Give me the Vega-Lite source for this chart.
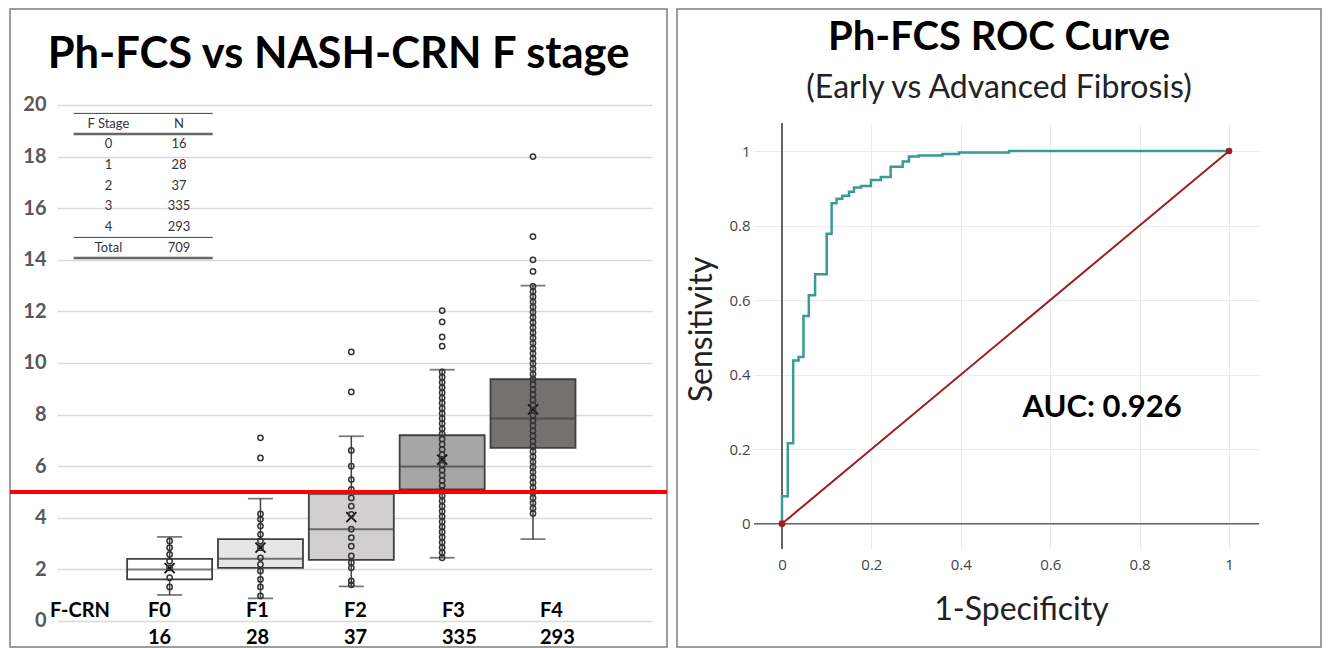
{
  "$schema": "https://vega.github.io/schema/vega-lite/v6.json",
  "padding": {"left": 7, "top": 8, "right": 0, "bottom": 0},
  "bounds": "flush",
  "spacing": 10,
  "background": "white",
  "config": {"view": {"stroke": "#7f7f7f", "strokeWidth": 1.5}, "font": "Lato"},
  "datasets": {
    "boxes": [
      {"stage": 0, "lo": 1.01, "q1": 1.61, "med": 2.0, "q3": 2.41, "hi": 3.26, "mean": 2.05},
      {"stage": 1, "lo": 0.88, "q1": 2.06, "med": 2.41, "q3": 3.17, "hi": 4.74, "mean": 2.84},
      {"stage": 2, "lo": 1.34, "q1": 2.37, "med": 3.56, "q3": 4.93, "hi": 7.16, "mean": 4.03},
      {"stage": 3, "lo": 2.45, "q1": 5.1, "med": 5.99, "q3": 7.2, "hi": 9.74, "mean": 6.25},
      {"stage": 4, "lo": 3.17, "q1": 6.71, "med": 7.85, "q3": 9.37, "hi": 13.0, "mean": 8.2}
    ],
    "pts": [
      {"stage": 0, "v": 3.1}, {"stage": 0, "v": 2.84}, {"stage": 0, "v": 2.58}, {"stage": 0, "v": 2.32}, {"stage": 0, "v": 2.06}, {"stage": 0, "v": 1.68}, {"stage": 0, "v": 1.32},
      {"stage": 1, "v": 4.15}, {"stage": 1, "v": 3.94}, {"stage": 1, "v": 3.68}, {"stage": 1, "v": 3.36}, {"stage": 1, "v": 3.1}, {"stage": 1, "v": 2.84}, {"stage": 1, "v": 2.45}, {"stage": 1, "v": 2.19}, {"stage": 1, "v": 1.94}, {"stage": 1, "v": 1.61}, {"stage": 1, "v": 1.32}, {"stage": 1, "v": 0.97}, {"stage": 1, "v": 6.32}, {"stage": 1, "v": 7.1},
      {"stage": 2, "v": 6.61}, {"stage": 2, "v": 6.0}, {"stage": 2, "v": 5.48}, {"stage": 2, "v": 5.1}, {"stage": 2, "v": 4.77}, {"stage": 2, "v": 4.45}, {"stage": 2, "v": 4.13}, {"stage": 2, "v": 3.56}, {"stage": 2, "v": 3.23}, {"stage": 2, "v": 2.9}, {"stage": 2, "v": 2.52}, {"stage": 2, "v": 2.26}, {"stage": 2, "v": 2.06}, {"stage": 2, "v": 1.55}, {"stage": 2, "v": 1.4}, {"stage": 2, "v": 8.88}, {"stage": 2, "v": 10.43},
      {"stage": 3, "v": 2.45}, {"stage": 3, "v": 2.65}, {"stage": 3, "v": 2.85}, {"stage": 3, "v": 3.05}, {"stage": 3, "v": 3.25}, {"stage": 3, "v": 3.45}, {"stage": 3, "v": 3.65}, {"stage": 3, "v": 3.85}, {"stage": 3, "v": 4.05}, {"stage": 3, "v": 4.25}, {"stage": 3, "v": 4.45}, {"stage": 3, "v": 4.65}, {"stage": 3, "v": 4.85}, {"stage": 3, "v": 5.05}, {"stage": 3, "v": 5.25}, {"stage": 3, "v": 5.45}, {"stage": 3, "v": 5.65}, {"stage": 3, "v": 5.85}, {"stage": 3, "v": 6.05}, {"stage": 3, "v": 6.25}, {"stage": 3, "v": 6.45}, {"stage": 3, "v": 6.65}, {"stage": 3, "v": 6.85}, {"stage": 3, "v": 7.05}, {"stage": 3, "v": 7.25}, {"stage": 3, "v": 7.45}, {"stage": 3, "v": 7.65}, {"stage": 3, "v": 7.85}, {"stage": 3, "v": 8.05}, {"stage": 3, "v": 8.25}, {"stage": 3, "v": 8.45}, {"stage": 3, "v": 8.65}, {"stage": 3, "v": 8.85}, {"stage": 3, "v": 9.05}, {"stage": 3, "v": 9.25}, {"stage": 3, "v": 9.45}, {"stage": 3, "v": 9.65}, {"stage": 3, "v": 10.65}, {"stage": 3, "v": 11.01}, {"stage": 3, "v": 11.59}, {"stage": 3, "v": 12.03},
      {"stage": 4, "v": 4.17}, {"stage": 4, "v": 4.37}, {"stage": 4, "v": 4.57}, {"stage": 4, "v": 4.77}, {"stage": 4, "v": 4.97}, {"stage": 4, "v": 5.17}, {"stage": 4, "v": 5.37}, {"stage": 4, "v": 5.57}, {"stage": 4, "v": 5.77}, {"stage": 4, "v": 5.97}, {"stage": 4, "v": 6.17}, {"stage": 4, "v": 6.37}, {"stage": 4, "v": 6.57}, {"stage": 4, "v": 6.77}, {"stage": 4, "v": 6.97}, {"stage": 4, "v": 7.17}, {"stage": 4, "v": 7.37}, {"stage": 4, "v": 7.57}, {"stage": 4, "v": 7.77}, {"stage": 4, "v": 7.97}, {"stage": 4, "v": 8.17}, {"stage": 4, "v": 8.37}, {"stage": 4, "v": 8.57}, {"stage": 4, "v": 8.77}, {"stage": 4, "v": 8.97}, {"stage": 4, "v": 9.17}, {"stage": 4, "v": 9.37}, {"stage": 4, "v": 9.57}, {"stage": 4, "v": 9.77}, {"stage": 4, "v": 9.97}, {"stage": 4, "v": 10.17}, {"stage": 4, "v": 10.37}, {"stage": 4, "v": 10.57}, {"stage": 4, "v": 10.77}, {"stage": 4, "v": 10.97}, {"stage": 4, "v": 11.17}, {"stage": 4, "v": 11.37}, {"stage": 4, "v": 11.57}, {"stage": 4, "v": 11.77}, {"stage": 4, "v": 11.97}, {"stage": 4, "v": 12.17}, {"stage": 4, "v": 12.37}, {"stage": 4, "v": 12.57}, {"stage": 4, "v": 12.77}, {"stage": 4, "v": 12.97}, {"stage": 4, "v": 13.55}, {"stage": 4, "v": 14.0}, {"stage": 4, "v": 14.9}, {"stage": 4, "v": 18.0}
    ],
    "xlab": [
      {"lab": "F-CRN", "n": ""}, {"lab": "F0", "n": "16"}, {"lab": "F1", "n": "28"}, {"lab": "F2", "n": "37"}, {"lab": "F3", "n": "335"}, {"lab": "F4", "n": "293"}
    ],
    "tab": [
      {"r": "h", "a": "F Stage", "b": "N"},
      {"r": "0", "a": "0", "b": "16"},
      {"r": "1", "a": "1", "b": "28"},
      {"r": "2", "a": "2", "b": "37"},
      {"r": "3", "a": "3", "b": "335"},
      {"r": "4", "a": "4", "b": "293"},
      {"r": "T", "a": "Total", "b": "709"}
    ],
    "roc": [
      {"i": 0, "fpr": 0, "tpr": 0}, {"i": 1, "fpr": 0, "tpr": 0.074}, {"i": 2, "fpr": 0.013, "tpr": 0.074}, {"i": 3, "fpr": 0.013, "tpr": 0.216}, {"i": 4, "fpr": 0.025, "tpr": 0.216}, {"i": 5, "fpr": 0.025, "tpr": 0.438}, {"i": 6, "fpr": 0.037, "tpr": 0.438}, {"i": 7, "fpr": 0.037, "tpr": 0.447}, {"i": 8, "fpr": 0.048, "tpr": 0.447}, {"i": 9, "fpr": 0.048, "tpr": 0.557}, {"i": 10, "fpr": 0.06, "tpr": 0.557}, {"i": 11, "fpr": 0.06, "tpr": 0.613}, {"i": 12, "fpr": 0.074, "tpr": 0.613}, {"i": 13, "fpr": 0.074, "tpr": 0.669}, {"i": 14, "fpr": 0.1, "tpr": 0.669}, {"i": 15, "fpr": 0.1, "tpr": 0.778}, {"i": 16, "fpr": 0.111, "tpr": 0.778}, {"i": 17, "fpr": 0.111, "tpr": 0.86}, {"i": 18, "fpr": 0.122, "tpr": 0.86}, {"i": 19, "fpr": 0.122, "tpr": 0.872}, {"i": 20, "fpr": 0.135, "tpr": 0.872}, {"i": 21, "fpr": 0.135, "tpr": 0.88}, {"i": 22, "fpr": 0.15, "tpr": 0.88}, {"i": 23, "fpr": 0.15, "tpr": 0.891}, {"i": 24, "fpr": 0.161, "tpr": 0.891}, {"i": 25, "fpr": 0.161, "tpr": 0.902}, {"i": 26, "fpr": 0.177, "tpr": 0.902}, {"i": 27, "fpr": 0.177, "tpr": 0.906}, {"i": 28, "fpr": 0.199, "tpr": 0.906}, {"i": 29, "fpr": 0.199, "tpr": 0.922}, {"i": 30, "fpr": 0.221, "tpr": 0.922}, {"i": 31, "fpr": 0.221, "tpr": 0.93}, {"i": 32, "fpr": 0.243, "tpr": 0.93}, {"i": 33, "fpr": 0.243, "tpr": 0.958}, {"i": 34, "fpr": 0.27, "tpr": 0.958}, {"i": 35, "fpr": 0.27, "tpr": 0.972}, {"i": 36, "fpr": 0.284, "tpr": 0.972}, {"i": 37, "fpr": 0.284, "tpr": 0.985}, {"i": 38, "fpr": 0.306, "tpr": 0.985}, {"i": 39, "fpr": 0.306, "tpr": 0.988}, {"i": 40, "fpr": 0.359, "tpr": 0.988}, {"i": 41, "fpr": 0.359, "tpr": 0.992}, {"i": 42, "fpr": 0.396, "tpr": 0.992}, {"i": 43, "fpr": 0.396, "tpr": 0.996}, {"i": 44, "fpr": 0.508, "tpr": 0.996}, {"i": 45, "fpr": 0.508, "tpr": 1}, {"i": 46, "fpr": 1, "tpr": 1}
    ],
    "diag": [{"fpr": 0, "tpr": 0}, {"fpr": 1, "tpr": 1}]
  },
  "hconcat": [
    {
      "width": 657,
      "height": 638,
      "title": {"text": "Ph-FCS vs NASH-CRN F stage", "font": "Lato", "fontSize": 43.5, "fontWeight": "bold", "color": "#000000", "anchor": "middle", "offset": -68},
      "resolve": {"scale": {"x": "independent", "y": "independent"}},
      "layer": [
        {
          "layer": [
            {
              "data": {"name": "boxes"},
              "mark": {"type": "rule", "color": "#404040", "strokeWidth": 1.5},
              "encoding": {
                "x": {"field": "stage", "type": "quantitative", "scale": {"domain": [-1.702, 5.42], "nice": false, "zero": false}, "axis": null},
                "y": {"field": "lo", "type": "quantitative", "scale": {"domain": [-1.008, 23.72], "nice": false, "zero": false},
                  "axis": {"values": [0, 2, 4, 6, 8, 10, 12, 14, 16, 18, 20], "orient": "left", "offset": -642, "tickSize": 595, "tickColor": "#d9d9d9", "tickWidth": 1.5, "domain": false, "grid": false, "labelPadding": 11, "labelFont": "Lato", "labelFontSize": 20, "labelFontWeight": "bold", "labelColor": "#595959", "title": null}},
                "y2": {"field": "hi"}
              }
            },
            {
              "data": {"name": "boxes"},
              "mark": {"type": "tick", "orient": "horizontal", "size": 25, "thickness": 1.8, "color": "#404040"},
              "encoding": {
                "x": {"field": "stage", "type": "quantitative", "scale": {"domain": [-1.702, 5.42], "nice": false, "zero": false}, "axis": null},
                "y": {"field": "lo", "type": "quantitative", "scale": {"domain": [-1.008, 23.72], "nice": false, "zero": false},
                  "axis": {"values": [0, 2, 4, 6, 8, 10, 12, 14, 16, 18, 20], "orient": "left", "offset": -642, "tickSize": 595, "tickColor": "#d9d9d9", "tickWidth": 1.5, "domain": false, "grid": false, "labelPadding": 11, "labelFont": "Lato", "labelFontSize": 20, "labelFontWeight": "bold", "labelColor": "#595959", "title": null}}
              }
            },
            {
              "data": {"name": "boxes"},
              "mark": {"type": "tick", "orient": "horizontal", "size": 25, "thickness": 1.8, "color": "#404040"},
              "encoding": {
                "x": {"field": "stage", "type": "quantitative", "scale": {"domain": [-1.702, 5.42], "nice": false, "zero": false}, "axis": null},
                "y": {"field": "hi", "type": "quantitative", "scale": {"domain": [-1.008, 23.72], "nice": false, "zero": false},
                  "axis": {"values": [0, 2, 4, 6, 8, 10, 12, 14, 16, 18, 20], "orient": "left", "offset": -642, "tickSize": 595, "tickColor": "#d9d9d9", "tickWidth": 1.5, "domain": false, "grid": false, "labelPadding": 11, "labelFont": "Lato", "labelFontSize": 20, "labelFontWeight": "bold", "labelColor": "#595959", "title": null}}
              }
            },
            {
              "data": {"name": "boxes"},
              "mark": {"type": "bar", "width": 85, "stroke": "#404040", "strokeWidth": 1.8},
              "encoding": {
                "x": {"field": "stage", "type": "quantitative", "scale": {"domain": [-1.702, 5.42], "nice": false, "zero": false}, "axis": null},
                "y": {"field": "q1", "type": "quantitative", "scale": {"domain": [-1.008, 23.72], "nice": false, "zero": false},
                  "axis": {"values": [0, 2, 4, 6, 8, 10, 12, 14, 16, 18, 20], "orient": "left", "offset": -642, "tickSize": 595, "tickColor": "#d9d9d9", "tickWidth": 1.5, "domain": false, "grid": false, "labelPadding": 11, "labelFont": "Lato", "labelFontSize": 20, "labelFontWeight": "bold", "labelColor": "#595959", "title": null}},
                "y2": {"field": "q3"},
                "fill": {"field": "stage", "type": "ordinal", "scale": {"domain": [0, 1, 2, 3, 4], "range": ["#ffffff", "#e7e6e6", "#d0cece", "#a6a6a6", "#767171"]}, "legend": null}
              }
            },
            {
              "data": {"name": "boxes"},
              "mark": {"type": "tick", "orient": "horizontal", "size": 85, "thickness": 2, "color": "#404040"},
              "encoding": {
                "x": {"field": "stage", "type": "quantitative", "scale": {"domain": [-1.702, 5.42], "nice": false, "zero": false}, "axis": null},
                "y": {"field": "med", "type": "quantitative", "scale": {"domain": [-1.008, 23.72], "nice": false, "zero": false},
                  "axis": {"values": [0, 2, 4, 6, 8, 10, 12, 14, 16, 18, 20], "orient": "left", "offset": -642, "tickSize": 595, "tickColor": "#d9d9d9", "tickWidth": 1.5, "domain": false, "grid": false, "labelPadding": 11, "labelFont": "Lato", "labelFontSize": 20, "labelFontWeight": "bold", "labelColor": "#595959", "title": null}}
              }
            },
            {
              "data": {"name": "boxes"},
              "mark": {"type": "point", "shape": "M-1,-1L1,1M-1,1L1,-1", "filled": false, "stroke": "#111111", "strokeWidth": 1.8, "size": 100, "opacity": 1},
              "encoding": {
                "x": {"field": "stage", "type": "quantitative", "scale": {"domain": [-1.702, 5.42], "nice": false, "zero": false}, "axis": null},
                "y": {"field": "mean", "type": "quantitative", "scale": {"domain": [-1.008, 23.72], "nice": false, "zero": false},
                  "axis": {"values": [0, 2, 4, 6, 8, 10, 12, 14, 16, 18, 20], "orient": "left", "offset": -642, "tickSize": 595, "tickColor": "#d9d9d9", "tickWidth": 1.5, "domain": false, "grid": false, "labelPadding": 11, "labelFont": "Lato", "labelFontSize": 20, "labelFontWeight": "bold", "labelColor": "#595959", "title": null}}
              }
            },
            {
              "data": {"name": "pts"},
              "mark": {"type": "point", "shape": "circle", "filled": false, "stroke": "#333333", "strokeWidth": 1.5, "size": 28, "opacity": 1},
              "encoding": {
                "x": {"field": "stage", "type": "quantitative", "scale": {"domain": [-1.702, 5.42], "nice": false, "zero": false}, "axis": null},
                "y": {"field": "v", "type": "quantitative", "scale": {"domain": [-1.008, 23.72], "nice": false, "zero": false},
                  "axis": {"values": [0, 2, 4, 6, 8, 10, 12, 14, 16, 18, 20], "orient": "left", "offset": -642, "tickSize": 595, "tickColor": "#d9d9d9", "tickWidth": 1.5, "domain": false, "grid": false, "labelPadding": 11, "labelFont": "Lato", "labelFontSize": 20, "labelFontWeight": "bold", "labelColor": "#595959", "title": null}}
              }
            },
            {
              "data": {"values": [{}]},
              "mark": {"type": "rule", "color": "#ff0000", "strokeWidth": 4},
              "encoding": {
                "y": {"datum": 5, "type": "quantitative", "scale": {"domain": [-1.008, 23.72], "nice": false, "zero": false},
                  "axis": {"values": [0, 2, 4, 6, 8, 10, 12, 14, 16, 18, 20], "orient": "left", "offset": -642, "tickSize": 595, "tickColor": "#d9d9d9", "tickWidth": 1.5, "domain": false, "grid": false, "labelPadding": 11, "labelFont": "Lato", "labelFontSize": 20, "labelFontWeight": "bold", "labelColor": "#595959", "title": null}}
              }
            }
          ]
        },
        {
          "data": {"name": "xlab"},
          "layer": [
            {
              "mark": {"type": "text", "align": "left", "baseline": "middle", "font": "Lato", "fontSize": 20, "fontWeight": "bold", "color": "#000000"},
              "encoding": {
                "x": {"field": "lab", "type": "nominal", "bandPosition": 0, "scale": {"type": "band", "domain": ["F-CRN", "F0", "F1", "F2", "F3", "F4"], "paddingInner": 0, "paddingOuter": 0.352, "align": 0.58}, "axis": null},
                "y": {"datum": 0.38, "type": "quantitative", "scale": {"domain": [-1.008, 23.72], "nice": false, "zero": false}, "axis": null},
                "text": {"field": "lab"}
              }
            },
            {
              "mark": {"type": "text", "align": "left", "baseline": "middle", "font": "Lato", "fontSize": 20, "fontWeight": "bold", "color": "#000000"},
              "encoding": {
                "x": {"field": "lab", "type": "nominal", "bandPosition": 0, "scale": {"type": "band", "domain": ["F-CRN", "F0", "F1", "F2", "F3", "F4"], "paddingInner": 0, "paddingOuter": 0.352, "align": 0.58}, "axis": null},
                "y": {"datum": -0.66, "type": "quantitative", "scale": {"domain": [-1.008, 23.72], "nice": false, "zero": false}, "axis": null},
                "text": {"field": "n"}
              }
            }
          ]
        },
        {
          "layer": [
            {
              "data": {"name": "tab"},
              "mark": {"type": "text", "align": "center", "baseline": "middle", "font": "Lato", "fontSize": 13, "color": "#333333"},
              "encoding": {
                "x": {"datum": 0.25, "type": "quantitative", "scale": {"domain": [0, 1], "range": [63.7, 202.7], "nice": false, "zero": false}, "axis": null},
                "y": {"field": "r", "type": "nominal", "scale": {"type": "band", "domain": ["h", "0", "1", "2", "3", "4", "T"], "range": [104.4, 249.1], "paddingInner": 0, "paddingOuter": 0}, "axis": null},
                "text": {"field": "a"}
              }
            },
            {
              "data": {"name": "tab"},
              "mark": {"type": "text", "align": "center", "baseline": "middle", "font": "Lato", "fontSize": 13, "color": "#333333"},
              "encoding": {
                "x": {"datum": 0.758, "type": "quantitative", "scale": {"domain": [0, 1], "range": [63.7, 202.7], "nice": false, "zero": false}, "axis": null},
                "y": {"field": "r", "type": "nominal", "scale": {"type": "band", "domain": ["h", "0", "1", "2", "3", "4", "T"], "range": [104.4, 249.1], "paddingInner": 0, "paddingOuter": 0}, "axis": null},
                "text": {"field": "b"}
              }
            },
            {
              "data": {"values": [{}]},
              "mark": {"type": "rule", "color": "#444444", "strokeWidth": 1},
              "encoding": {
                "x": {"datum": 0, "type": "quantitative", "scale": {"domain": [0, 1], "range": [63.7, 202.7], "nice": false, "zero": false}, "axis": null},
                "x2": {"datum": 1},
                "y": {"datum": "h", "type": "nominal", "bandPosition": 0, "scale": {"type": "band", "domain": ["h", "0", "1", "2", "3", "4", "T"], "range": [104.4, 249.1], "paddingInner": 0, "paddingOuter": 0}, "axis": null}
              }
            },
            {
              "data": {"values": [{}]},
              "mark": {"type": "rule", "color": "#666666", "strokeWidth": 2.5},
              "encoding": {
                "x": {"datum": 0, "type": "quantitative", "scale": {"domain": [0, 1], "range": [63.7, 202.7], "nice": false, "zero": false}, "axis": null},
                "x2": {"datum": 1},
                "y": {"datum": "h", "type": "nominal", "bandPosition": 1, "scale": {"type": "band", "domain": ["h", "0", "1", "2", "3", "4", "T"], "range": [104.4, 249.1], "paddingInner": 0, "paddingOuter": 0}, "axis": null}
              }
            },
            {
              "data": {"values": [{}]},
              "mark": {"type": "rule", "color": "#444444", "strokeWidth": 1},
              "encoding": {
                "x": {"datum": 0, "type": "quantitative", "scale": {"domain": [0, 1], "range": [63.7, 202.7], "nice": false, "zero": false}, "axis": null},
                "x2": {"datum": 1},
                "y": {"datum": "T", "type": "nominal", "bandPosition": 0, "scale": {"type": "band", "domain": ["h", "0", "1", "2", "3", "4", "T"], "range": [104.4, 249.1], "paddingInner": 0, "paddingOuter": 0}, "axis": null}
              }
            },
            {
              "data": {"values": [{}]},
              "mark": {"type": "rule", "color": "#666666", "strokeWidth": 2.5},
              "encoding": {
                "x": {"datum": 0, "type": "quantitative", "scale": {"domain": [0, 1], "range": [63.7, 202.7], "nice": false, "zero": false}, "axis": null},
                "x2": {"datum": 1},
                "y": {"datum": "T", "type": "nominal", "bandPosition": 1, "scale": {"type": "band", "domain": ["h", "0", "1", "2", "3", "4", "T"], "range": [104.4, 249.1], "paddingInner": 0, "paddingOuter": 0}, "axis": null}
              }
            }
          ]
        }
      ]
    },
    {
      "width": 644,
      "height": 638,
      "title": {"text": "Ph-FCS ROC Curve", "subtitle": "(Early vs Advanced Fibrosis)", "font": "Lato", "fontSize": 40, "fontWeight": "bold", "color": "#000000", "subtitleFont": "Lato", "subtitleFontSize": 32, "subtitleColor": "#222222", "subtitlePadding": 15, "anchor": "middle", "offset": -95},
      "layer": [
        {
          "data": {"values": [{}]},
          "mark": {"type": "rule", "color": "#666666", "strokeWidth": 1.5},
          "encoding": {
            "x": {"datum": -0.0626, "type": "quantitative", "scale": {"domain": [-0.2349, 1.2058], "nice": false, "zero": false},
              "axis": {"values": [0, 0.2, 0.4, 0.6, 0.8, 1], "format": "~g", "orient": "bottom", "offset": -524, "tickSize": 426, "tickColor": "#ebebeb", "tickWidth": 1, "domain": false, "grid": false, "labelPadding": 8, "labelFont": "Open Sans", "labelFontSize": 15, "labelColor": "#444444", "title": "1-Specificity", "titleFont": "Lato", "titleFontSize": 32, "titleFontWeight": "normal", "titleColor": "#222222", "titleX": 344, "titleY": 486, "titleBaseline": "middle", "titleAlign": "center"}},
            "x2": {"datum": 1.067},
            "y": {"datum": 0, "type": "quantitative", "scale": {"domain": [-0.3308, 1.381], "nice": false, "zero": false},
              "axis": {"values": [0, 0.2, 0.4, 0.6, 0.8, 1], "format": "~g", "orient": "left", "offset": -582, "tickSize": 505, "tickColor": "#ebebeb", "tickWidth": 1, "domain": false, "grid": false, "labelPadding": 4, "labelFont": "Open Sans", "labelFontSize": 15, "labelColor": "#444444", "title": "Sensitivity", "titleFont": "Lato", "titleFontSize": 32, "titleFontWeight": "normal", "titleColor": "#222222", "titleX": -558, "titleY": 320, "titleAngle": -90, "titleBaseline": "middle", "titleAlign": "center"}}
          }
        },
        {
          "data": {"values": [{}]},
          "mark": {"type": "rule", "color": "#333333", "strokeWidth": 1.5},
          "encoding": {
            "x": {"datum": 0, "type": "quantitative", "scale": {"domain": [-0.2349, 1.2058], "nice": false, "zero": false},
              "axis": {"values": [0, 0.2, 0.4, 0.6, 0.8, 1], "format": "~g", "orient": "bottom", "offset": -524, "tickSize": 426, "tickColor": "#ebebeb", "tickWidth": 1, "domain": false, "grid": false, "labelPadding": 8, "labelFont": "Open Sans", "labelFontSize": 15, "labelColor": "#444444", "title": "1-Specificity", "titleFont": "Lato", "titleFontSize": 32, "titleFontWeight": "normal", "titleColor": "#222222", "titleX": 344, "titleY": 486, "titleBaseline": "middle", "titleAlign": "center"}},
            "y": {"datum": -0.068, "type": "quantitative", "scale": {"domain": [-0.3308, 1.381], "nice": false, "zero": false},
              "axis": {"values": [0, 0.2, 0.4, 0.6, 0.8, 1], "format": "~g", "orient": "left", "offset": -582, "tickSize": 505, "tickColor": "#ebebeb", "tickWidth": 1, "domain": false, "grid": false, "labelPadding": 4, "labelFont": "Open Sans", "labelFontSize": 15, "labelColor": "#444444", "title": "Sensitivity", "titleFont": "Lato", "titleFontSize": 32, "titleFontWeight": "normal", "titleColor": "#222222", "titleX": -558, "titleY": 320, "titleAngle": -90, "titleBaseline": "middle", "titleAlign": "center"}},
            "y2": {"datum": 1.075}
          }
        },
        {
          "data": {"name": "roc"},
          "mark": {"type": "line", "color": "#3a9a94", "strokeWidth": 2.5, "interpolate": "linear"},
          "encoding": {
            "x": {"field": "fpr", "type": "quantitative", "scale": {"domain": [-0.2349, 1.2058], "nice": false, "zero": false},
              "axis": {"values": [0, 0.2, 0.4, 0.6, 0.8, 1], "format": "~g", "orient": "bottom", "offset": -524, "tickSize": 426, "tickColor": "#ebebeb", "tickWidth": 1, "domain": false, "grid": false, "labelPadding": 8, "labelFont": "Open Sans", "labelFontSize": 15, "labelColor": "#444444", "title": "1-Specificity", "titleFont": "Lato", "titleFontSize": 32, "titleFontWeight": "normal", "titleColor": "#222222", "titleX": 344, "titleY": 486, "titleBaseline": "middle", "titleAlign": "center"}},
            "y": {"field": "tpr", "type": "quantitative", "scale": {"domain": [-0.3308, 1.381], "nice": false, "zero": false},
              "axis": {"values": [0, 0.2, 0.4, 0.6, 0.8, 1], "format": "~g", "orient": "left", "offset": -582, "tickSize": 505, "tickColor": "#ebebeb", "tickWidth": 1, "domain": false, "grid": false, "labelPadding": 4, "labelFont": "Open Sans", "labelFontSize": 15, "labelColor": "#444444", "title": "Sensitivity", "titleFont": "Lato", "titleFontSize": 32, "titleFontWeight": "normal", "titleColor": "#222222", "titleX": -558, "titleY": 320, "titleAngle": -90, "titleBaseline": "middle", "titleAlign": "center"}},
            "order": {"field": "i", "type": "quantitative"}
          }
        },
        {
          "data": {"name": "diag"},
          "mark": {"type": "line", "color": "#a11d1d", "strokeWidth": 2},
          "encoding": {
            "x": {"field": "fpr", "type": "quantitative", "scale": {"domain": [-0.2349, 1.2058], "nice": false, "zero": false},
              "axis": {"values": [0, 0.2, 0.4, 0.6, 0.8, 1], "format": "~g", "orient": "bottom", "offset": -524, "tickSize": 426, "tickColor": "#ebebeb", "tickWidth": 1, "domain": false, "grid": false, "labelPadding": 8, "labelFont": "Open Sans", "labelFontSize": 15, "labelColor": "#444444", "title": "1-Specificity", "titleFont": "Lato", "titleFontSize": 32, "titleFontWeight": "normal", "titleColor": "#222222", "titleX": 344, "titleY": 486, "titleBaseline": "middle", "titleAlign": "center"}},
            "y": {"field": "tpr", "type": "quantitative", "scale": {"domain": [-0.3308, 1.381], "nice": false, "zero": false},
              "axis": {"values": [0, 0.2, 0.4, 0.6, 0.8, 1], "format": "~g", "orient": "left", "offset": -582, "tickSize": 505, "tickColor": "#ebebeb", "tickWidth": 1, "domain": false, "grid": false, "labelPadding": 4, "labelFont": "Open Sans", "labelFontSize": 15, "labelColor": "#444444", "title": "Sensitivity", "titleFont": "Lato", "titleFontSize": 32, "titleFontWeight": "normal", "titleColor": "#222222", "titleX": -558, "titleY": 320, "titleAngle": -90, "titleBaseline": "middle", "titleAlign": "center"}}
          }
        },
        {
          "data": {"name": "diag"},
          "mark": {"type": "point", "filled": true, "color": "#a11d1d", "size": 45, "opacity": 1},
          "encoding": {
            "x": {"field": "fpr", "type": "quantitative", "scale": {"domain": [-0.2349, 1.2058], "nice": false, "zero": false},
              "axis": {"values": [0, 0.2, 0.4, 0.6, 0.8, 1], "format": "~g", "orient": "bottom", "offset": -524, "tickSize": 426, "tickColor": "#ebebeb", "tickWidth": 1, "domain": false, "grid": false, "labelPadding": 8, "labelFont": "Open Sans", "labelFontSize": 15, "labelColor": "#444444", "title": "1-Specificity", "titleFont": "Lato", "titleFontSize": 32, "titleFontWeight": "normal", "titleColor": "#222222", "titleX": 344, "titleY": 486, "titleBaseline": "middle", "titleAlign": "center"}},
            "y": {"field": "tpr", "type": "quantitative", "scale": {"domain": [-0.3308, 1.381], "nice": false, "zero": false},
              "axis": {"values": [0, 0.2, 0.4, 0.6, 0.8, 1], "format": "~g", "orient": "left", "offset": -582, "tickSize": 505, "tickColor": "#ebebeb", "tickWidth": 1, "domain": false, "grid": false, "labelPadding": 4, "labelFont": "Open Sans", "labelFontSize": 15, "labelColor": "#444444", "title": "Sensitivity", "titleFont": "Lato", "titleFontSize": 32, "titleFontWeight": "normal", "titleColor": "#222222", "titleX": -558, "titleY": 320, "titleAngle": -90, "titleBaseline": "middle", "titleAlign": "center"}}
          }
        },
        {
          "data": {"values": [{"label": "AUC: 0.926"}]},
          "mark": {"type": "text", "align": "center", "baseline": "middle", "font": "Lato", "fontSize": 31, "fontWeight": "bold", "color": "#000000"},
          "encoding": {
            "x": {"datum": 0.716, "type": "quantitative", "scale": {"domain": [-0.2349, 1.2058], "nice": false, "zero": false},
              "axis": {"values": [0, 0.2, 0.4, 0.6, 0.8, 1], "format": "~g", "orient": "bottom", "offset": -524, "tickSize": 426, "tickColor": "#ebebeb", "tickWidth": 1, "domain": false, "grid": false, "labelPadding": 8, "labelFont": "Open Sans", "labelFontSize": 15, "labelColor": "#444444", "title": "1-Specificity", "titleFont": "Lato", "titleFontSize": 32, "titleFontWeight": "normal", "titleColor": "#222222", "titleX": 344, "titleY": 486, "titleBaseline": "middle", "titleAlign": "center"}},
            "y": {"datum": 0.31, "type": "quantitative", "scale": {"domain": [-0.3308, 1.381], "nice": false, "zero": false},
              "axis": {"values": [0, 0.2, 0.4, 0.6, 0.8, 1], "format": "~g", "orient": "left", "offset": -582, "tickSize": 505, "tickColor": "#ebebeb", "tickWidth": 1, "domain": false, "grid": false, "labelPadding": 4, "labelFont": "Open Sans", "labelFontSize": 15, "labelColor": "#444444", "title": "Sensitivity", "titleFont": "Lato", "titleFontSize": 32, "titleFontWeight": "normal", "titleColor": "#222222", "titleX": -558, "titleY": 320, "titleAngle": -90, "titleBaseline": "middle", "titleAlign": "center"}},
            "text": {"field": "label"}
          }
        }
      ]
    }
  ]
}
